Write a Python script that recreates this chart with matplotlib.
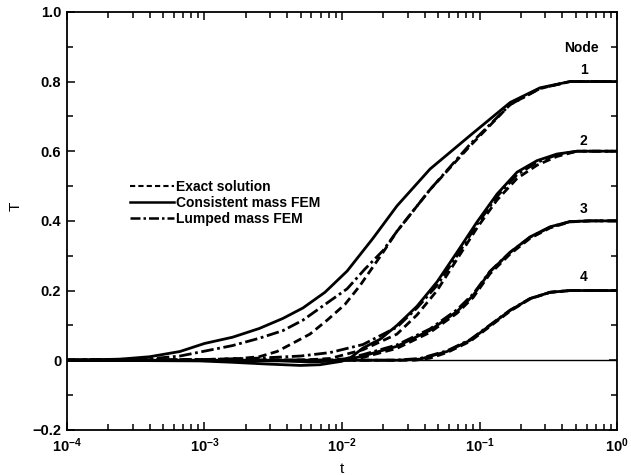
import numpy as np
import matplotlib.pyplot as plt
from matplotlib.ticker import FixedLocator, MultipleLocator, FixedFormatter
from matplotlib.lines import Line2D

plt.rcParams['font.family'] = ['Liberation Sans', 'DejaVu Sans']
plt.rcParams['font.weight'] = 'bold'
plt.rcParams['mathtext.fontset'] = 'custom'
plt.rcParams['mathtext.rm'] = 'Liberation Sans:bold'
plt.rcParams['mathtext.bf'] = 'Liberation Sans:bold'
plt.rcParams['mathtext.default'] = 'bf'

# node 1
t1_cons = [1e-4, 2.43e-4, 4.0e-4, 6.64e-4, 1.0e-3, 1.6e-3, 2.5e-3, 3.72e-3, 5.2e-3, 7.52e-3,
           1.09e-2, 1.68e-2, 2.51e-2, 4.37e-2, 8.53e-2, 0.167, 0.275, 0.455, 1.0]
T1_cons = [0.0, 0.003, 0.010, 0.025, 0.048, 0.066, 0.091, 0.120, 0.150, 0.195,
           0.256, 0.350, 0.443, 0.549, 0.645, 0.740, 0.782, 0.800, 0.800]
t1_lump = [1e-4, 4.0e-4, 6.64e-4, 1.0e-3, 1.6e-3, 2.5e-3, 3.72e-3, 5.2e-3, 7.52e-3, 1.09e-2,
           1.47e-2, 1.99e-2, 2.51e-2, 4.37e-2, 8.53e-2, 0.167, 0.275, 0.455, 1.0]
T1_lump = [0.0, 0.004, 0.012, 0.026, 0.042, 0.063, 0.085, 0.115, 0.160, 0.205,
           0.262, 0.315, 0.370, 0.490, 0.620, 0.734, 0.780, 0.800, 0.800]
t1_exact = [1e-4, 1.0e-3, 1.81e-3, 2.5e-3, 3.37e-3, 4.4e-3, 5.85e-3, 7.8e-3, 1.05e-2, 1.35e-2,
            1.99e-2, 2.51e-2, 4.37e-2, 8.53e-2, 0.167, 0.275, 0.455, 1.0]
T1_exact = [0.0, 0.002, 0.005, 0.010, 0.025, 0.049, 0.075, 0.115, 0.160, 0.214,
            0.310, 0.370, 0.490, 0.615, 0.734, 0.780, 0.800, 0.800]

# node 2
t2_cons = [1e-4, 9.3e-4, 1.6e-3, 2.85e-3, 5.0e-3, 6.9e-3, 1.0e-2, 1.18e-2, 1.42e-2, 1.89e-2,
           2.51e-2, 3.51e-2, 4.91e-2, 6.86e-2, 9.59e-2, 0.134, 0.1875, 0.262, 0.366, 0.512, 1.0]
T2_cons = [0.0, -0.002, -0.006, -0.011, -0.015, -0.013, -0.003, 0.010, 0.035, 0.060,
           0.100, 0.155, 0.225, 0.310, 0.397, 0.477, 0.540, 0.573, 0.592, 0.600, 0.600]
t2_lump = [1e-4, 1.0e-3, 2.5e-3, 5.0e-3, 8.2e-3, 1.42e-2, 2.51e-2, 3.51e-2, 4.91e-2, 6.86e-2,
           9.59e-2, 0.134, 0.1875, 0.262, 0.366, 0.512, 1.0]
T2_lump = [0.0, 0.002, 0.006, 0.012, 0.022, 0.045, 0.095, 0.150, 0.215, 0.300,
           0.390, 0.470, 0.533, 0.568, 0.590, 0.600, 0.600]
t2_exact = [1e-4, 5.0e-3, 8.2e-3, 1.42e-2, 2.51e-2, 3.51e-2, 4.91e-2, 6.86e-2, 9.59e-2, 0.134,
            0.1875, 0.262, 0.366, 0.512, 1.0]
T2_exact = [0.0, 0.0, 0.005, 0.030, 0.075, 0.130, 0.200, 0.290, 0.380, 0.460,
            0.522, 0.560, 0.585, 0.600, 0.600]

# node 3
t3_cons = [1e-4, 3.54e-3, 5.85e-3, 8.2e-3, 1.05e-2, 1.42e-2, 2.51e-2, 4.37e-2, 6.86e-2, 8.98e-2,
           0.119, 0.167, 0.233, 0.326, 0.455, 0.637, 1.0]
T3_cons = [0.0, -0.002, -0.005, -0.003, 0.0, 0.012, 0.040, 0.086, 0.140, 0.186,
           0.254, 0.310, 0.354, 0.383, 0.398, 0.400, 0.400]
t3_lump = [1e-4, 8.2e-3, 1.05e-2, 1.42e-2, 2.51e-2, 4.37e-2, 6.86e-2, 8.98e-2,
           0.119, 0.167, 0.233, 0.326, 0.455, 0.637, 1.0]
T3_lump = [0.0, 0.0, 0.004, 0.016, 0.044, 0.090, 0.145, 0.190,
           0.255, 0.310, 0.353, 0.382, 0.398, 0.400, 0.400]
t3_exact = [1e-4, 1.05e-2, 1.42e-2, 2.51e-2, 4.37e-2, 6.86e-2, 8.98e-2,
            0.119, 0.167, 0.233, 0.326, 0.455, 0.637, 1.0]
T3_exact = [0.0, 0.0, 0.008, 0.034, 0.080, 0.135, 0.180,
            0.248, 0.305, 0.350, 0.380, 0.397, 0.400, 0.400]

# node 4
t4_cons = [1e-4, 2.64e-2, 3.69e-2, 5.8e-2, 8.53e-2, 0.119, 0.167, 0.233, 0.326, 0.455, 1.0]
T4_cons = [0.0, 0.0, 0.003, 0.025, 0.057, 0.100, 0.143, 0.177, 0.195, 0.200, 0.200]
t4_lump = [1e-4, 2.43e-2, 3.69e-2, 5.8e-2, 8.53e-2, 0.119, 0.167, 0.233, 0.326, 0.455, 1.0]
T4_lump = [0.0, 0.0, 0.005, 0.027, 0.059, 0.101, 0.144, 0.177, 0.195, 0.200, 0.200]
t4_exact = [1e-4, 3.4e-2, 4.37e-2, 5.8e-2, 8.53e-2, 0.119, 0.167, 0.233, 0.326, 0.455, 1.0]
T4_exact = [0.0, 0.0, 0.006, 0.022, 0.054, 0.097, 0.141, 0.176, 0.195, 0.200, 0.200]

node_names = ['1', '2', '3', '4']
node_label_t = [0.57, 0.57, 0.57, 0.57]
node_label_T = [0.834, 0.629, 0.434, 0.240]

x_ticks = [1e-4, 1e-3, 1e-2, 1e-1, 1e0]
x_labels = [r'$10^{-4}$', r'$10^{-3}$', r'$10^{-2}$', r'$10^{-1}$', r'$10^{0}$']
y_ticks = [-0.2, 0.0, 0.2, 0.4, 0.6, 0.8, 1.0]
y_labels = ['\u22120.2', '0', '0.2', '0.4', '0.6', '0.8', '1.0']

fig = plt.figure(figsize=(6.31, 4.75), dpi=100)
ax = fig.add_axes([0.106, 0.095, 0.872, 0.880])

lw = 2.0
dash_exact = (0, (3.0, 1.6))
dash_lump = (0, (4.5, 1.3, 1.0, 1.3))

curves = [
    (t1_exact, T1_exact, t1_cons, T1_cons, t1_lump, T1_lump),
    (t2_exact, T2_exact, t2_cons, T2_cons, t2_lump, T2_lump),
    (t3_exact, T3_exact, t3_cons, T3_cons, t3_lump, T3_lump),
    (t4_exact, T4_exact, t4_cons, T4_cons, t4_lump, T4_lump),
]
for te, Te, tc, Tc, tl, Tl in curves:
    ax.plot(te, Te, color='k', lw=lw, linestyle=dash_exact)
    ax.plot(tc, Tc, color='k', lw=lw, linestyle='-')
    ax.plot(tl, Tl, color='k', lw=lw, linestyle=dash_lump)

ax.axhline(0.0, color='k', lw=1.0)

ax.set_xscale('log')
ax.set_xlim(1e-4, 1e0)
ax.set_ylim(-0.2, 1.0)

ax.xaxis.set_major_locator(FixedLocator(x_ticks))
ax.xaxis.set_major_formatter(FixedFormatter(x_labels))
ax.yaxis.set_major_locator(FixedLocator(y_ticks))
ax.yaxis.set_major_formatter(FixedFormatter(y_labels))
ax.yaxis.set_minor_locator(MultipleLocator(0.1))

ax.tick_params(which='both', direction='in', top=True, right=True, width=1.1, labelsize=10.5)
ax.tick_params(which='major', length=6)
ax.tick_params(which='minor', length=4)
ax.tick_params(axis='x', pad=5)
ax.tick_params(axis='y', pad=4)
for s in ax.spines.values():
    s.set_linewidth(1.3)

ax.set_xlabel('t', fontsize=11)
ax.xaxis.set_label_coords(0.5, -0.077)
ax.set_ylabel('T', fontsize=11)
ax.yaxis.set_label_coords(-0.08, 0.535)

for name, xt, yt in zip(node_names, node_label_t, node_label_T):
    ax.text(xt, yt, name, fontsize=10, ha='center', va='center')
ax.text(0.55, 0.897, 'Node', fontsize=10, ha='center', va='center')

handles = [
    Line2D([], [], color='k', lw=1.5, linestyle=(0, (2.5, 1.5))),
    Line2D([], [], color='k', lw=1.8, linestyle='-'),
    Line2D([], [], color='k', lw=1.8, linestyle=(0, (4.0, 1.2, 1.0, 1.2))),
]
labels = ['Exact solution', 'Consistent mass FEM', 'Lumped mass FEM']
ax.legend(handles, labels, loc='upper left', bbox_to_anchor=(0.114, 0.598),
          frameon=False, borderpad=0, borderaxespad=0, handlelength=3.2,
          handletextpad=0.15, labelspacing=0.15, fontsize=10)

fig.savefig('out.png', dpi=100)
